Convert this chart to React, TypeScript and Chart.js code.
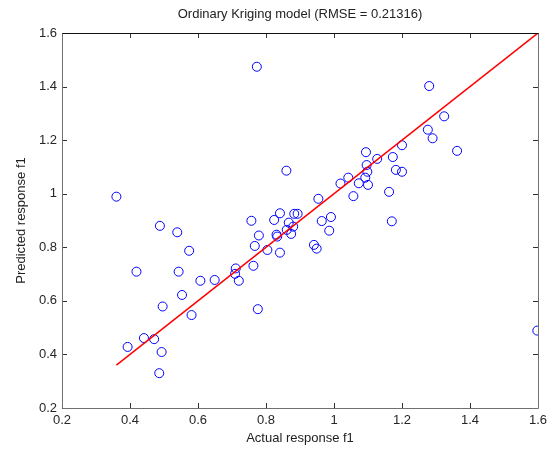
import React, { useEffect, useRef } from "react";
import { Chart, registerables } from "chart.js";

Chart.register(...registerables);

const actual = [
  0.773, 0.86, 0.36, 1.28, 1.324, 1.276, 1.29, 1.362, 1.2, 1.094, 1.127, 1.173, 1.096, 1.098,
  1.182, 1.2, 1.042, 1.019, 1.073, 1.092, 1.1, 1.057, 1.162, 0.954, 0.991, 0.964, 1.17, 0.986,
  0.941, 0.949, 1.598, 0.488, 0.539, 0.574, 0.419, 0.543, 0.607, 0.649, 0.553, 0.496, 0.581,
  0.441, 0.471, 0.393, 0.493, 0.486, 0.711, 0.709, 0.72, 0.763, 0.776, 0.804, 0.767, 0.779,
  0.757, 0.824, 0.841, 0.831, 0.833, 0.841, 0.867, 0.861, 0.874, 0.88, 0.883, 0.893,
];
const predicted = [
  1.474, 1.086, 0.989, 1.402, 1.289, 1.239, 1.207, 1.16, 1.181, 1.155, 1.13, 1.137, 1.107, 1.082,
  1.089, 1.082, 1.06, 1.038, 1.039, 1.06, 1.033, 0.991, 1.007, 0.981, 0.913, 0.898, 0.897, 0.862,
  0.809, 0.795, 0.489, 0.88, 0.856, 0.787, 0.709, 0.709, 0.675, 0.678, 0.622, 0.579, 0.547,
  0.461, 0.457, 0.428, 0.409, 0.33, 0.721, 0.701, 0.675, 0.731, 0.569, 0.79, 0.805, 0.844,
  0.899, 0.902, 0.927, 0.847, 0.84, 0.78, 0.892, 0.865, 0.85, 0.877, 0.925, 0.925,
];
const fitX = [0.36, 1.6];
const fitY = [0.36, 1.6];
const axisMin = 0.2;
const axisMax = 1.6;
const tickStep = 0.2;
const titleText = "Ordinary Kriging model (RMSE = 0.21316)";
const xTitle = "Actual response f1";
const yTitle = "Predicted response f1";

const FONT = "'Liberation Sans', Arial, Helvetica, sans-serif";

const framePlugin = {
  id: "matlabFrame",
  afterDatasetsDraw(chart: any) {
    const { ctx, chartArea: a, scales } = chart;
    const xs = scales.x;
    const ys = scales.y;
    const tl = 5;
    ctx.save();
    ctx.lineWidth = 1;
    ctx.strokeStyle = "#333333";
    ctx.beginPath();
    xs.ticks.forEach((t: any) => {
      const px = Math.round(xs.getPixelForValue(t.value)) + 0.5;
      ctx.moveTo(px, a.bottom);
      ctx.lineTo(px, a.bottom - tl);
      ctx.moveTo(px, a.top);
      ctx.lineTo(px, a.top + tl);
    });
    ys.ticks.forEach((t: any) => {
      const py = Math.round(ys.getPixelForValue(t.value)) + 0.5;
      ctx.moveTo(a.left, py);
      ctx.lineTo(a.left + tl, py);
      ctx.moveTo(a.right, py);
      ctx.lineTo(a.right - tl, py);
    });
    ctx.stroke();
    const L = Math.round(a.left) + 0.5;
    const R = Math.round(a.right) + 0.5;
    const T = Math.round(a.top) + 0.5;
    const B = Math.round(a.bottom) + 0.5;
    ctx.strokeStyle = "#707070";
    ctx.beginPath();
    ctx.moveTo(L, T);
    ctx.lineTo(L, B);
    ctx.lineTo(R, B);
    ctx.lineTo(R, T);
    ctx.stroke();
    ctx.strokeStyle = "#111111";
    ctx.beginPath();
    ctx.moveTo(L, T);
    ctx.lineTo(R, T);
    ctx.stroke();
    // title centred over the plot area
    ctx.fillStyle = "#222222";
    ctx.font = `13px ${FONT}`;
    ctx.textAlign = "center";
    ctx.textBaseline = "middle";
    ctx.fillText(titleText, (a.left + a.right) / 2, 14);
    ctx.restore();
  },
};

const fmt = (v: any) => String(Number(Number(v).toFixed(1)));

export default function App() {
  const ref = useRef<HTMLCanvasElement | null>(null);
  useEffect(() => {
    if (!ref.current) return;
    const chart = new Chart(ref.current, {
      type: "scatter",
      data: {
        datasets: [
          {
            label: "fit",
            type: "line",
            data: fitX.map((x, i) => ({ x, y: fitY[i] })),
            borderColor: "#ff0000",
            borderWidth: 1.5,
            pointRadius: 0,
            fill: false,
            order: 1,
          } as any,
          {
            label: "data",
            data: actual.map((x, i) => ({ x, y: predicted[i] })),
            borderColor: "#0000ff",
            backgroundColor: "rgba(0,0,0,0)",
            pointRadius: 4.5,
            pointBorderWidth: 1,
            order: 2,
          },
        ],
      },
      options: {
        animation: false,
        responsive: false,
        layout: { padding: { left: 0, right: 15, top: 33, bottom: 0 } },
        plugins: {
          legend: { display: false },
          tooltip: { enabled: false },
          title: { display: false },
        },
        scales: {
          x: {
            type: "linear",
            min: axisMin,
            max: axisMax,
            afterFit: (s: any) => {
              s.height = 41;
            },
            grid: { display: false, drawTicks: false },
            border: { display: false },
            ticks: {
              stepSize: tickStep,
              padding: 5,
              color: "#262626",
              font: { family: FONT, size: 13 },
              callback: (v: any) => fmt(v),
              maxRotation: 0,
            },
            title: {
              display: true,
              text: xTitle,
              color: "#222222",
              font: { family: FONT, size: 13, lineHeight: 1.2 },
              padding: { top: 0, bottom: 3 },
            },
          },
          y: {
            type: "linear",
            min: axisMin,
            max: axisMax,
            afterFit: (s: any) => {
              s.width = 62;
            },
            grid: { display: false, drawTicks: false },
            border: { display: false },
            ticks: {
              stepSize: tickStep,
              padding: 5,
              color: "#262626",
              font: { family: FONT, size: 13 },
              callback: (v: any) => fmt(v),
            },
            title: {
              display: true,
              text: yTitle,
              color: "#222222",
              font: { family: FONT, size: 13, lineHeight: 1.2 },
              padding: { top: 14, bottom: 0 },
            },
          },
        },
      },
      plugins: [framePlugin],
    });
    return () => chart.destroy();
  }, []);
  return (
    <div style={{ position: "fixed", left: 0, top: 0, width: 553, height: 449, background: "#ffffff" }}>
      <canvas ref={ref} width={553} height={449} style={{ display: "block" }} />
    </div>
  );
}
